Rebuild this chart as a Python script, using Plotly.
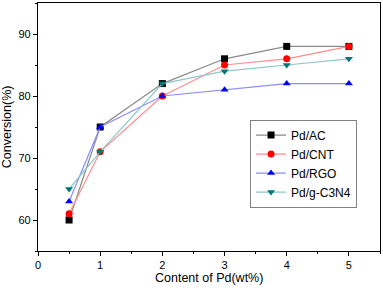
import plotly.graph_objects as go

x_vals = [0.5, 1, 2, 3, 4, 5]
pd_ac = [60, 75, 82, 86, 88, 88]
pd_cnt = [61, 71, 80, 85, 86, 88]
pd_rgo = [63, 75, 80, 81, 82, 82]
pd_gc3n4 = [65, 71, 82, 84, 85, 86]

series = [
    ("Pd/AC", pd_ac, "#000000", "#8a8a8a", "square"),
    ("Pd/CNT", pd_cnt, "#ff0000", "#ff8c8c", "circle"),
    ("Pd/RGO", pd_rgo, "#0000ff", "#8c8cff", "triangle-up"),
    ("Pd/g-C3N4", pd_gc3n4, "#007878", "#8cc8c8", "triangle-down"),
]

FONT = "Liberation Sans, Arial"

fig = go.Figure()
for name, ys, mc, lc, sym in series:
    fig.add_trace(go.Scatter(
        x=x_vals, y=ys, name=name, mode="lines+markers",
        line=dict(color=lc, width=1.2),
        marker=dict(color=mc, symbol=sym, size=7, line=dict(width=0)),
    ))

axis_common = dict(
    showline=True, linecolor="black", linewidth=1.2, mirror=True,
    ticks="outside", ticklen=4, tickwidth=1, tickcolor="black",
    showgrid=False, zeroline=False, automargin=False,
    tickfont=dict(family=FONT, size=11, color="black"),
)

fig.update_xaxes(range=[0, 5.5], dtick=1, tick0=0,
                 minor=dict(ticks="outside", ticklen=2, tickwidth=1, tickcolor="black", showgrid=False, dtick=0.5),
                 **axis_common)
fig.update_yaxes(range=[55, 95], dtick=10, tick0=60,
                 minor=dict(ticks="outside", ticklen=2, tickwidth=1, tickcolor="black", showgrid=False, dtick=5),
                 **axis_common)

fig.update_layout(
    width=383, height=290,
    margin=dict(l=38, r=3, t=3, b=39),
    paper_bgcolor="white", plot_bgcolor="white",
    legend=dict(x=0.62, y=0.53, xanchor="left", yanchor="top",
                bordercolor="#808080", borderwidth=1, bgcolor="white",
                font=dict(family=FONT, size=12, color="black"),
                tracegroupgap=0, itemwidth=30),
    showlegend=True,
    annotations=[
        dict(text="Content of Pd(wt%)", xref="paper", yref="paper", x=0.5, y=-0.107,
             xanchor="center", yanchor="middle", showarrow=False,
             font=dict(family=FONT, size=12.5, color="black")),
        dict(text="Conversion(%)", xref="paper", yref="paper", x=-0.09, y=0.5,
             xanchor="center", yanchor="middle", showarrow=False, textangle=-90,
             font=dict(family=FONT, size=12.5, color="black")),
    ],
)

fig.write_html("out.html", config={"displayModeBar": False},
               post_script="document.body.style.margin='0';")
